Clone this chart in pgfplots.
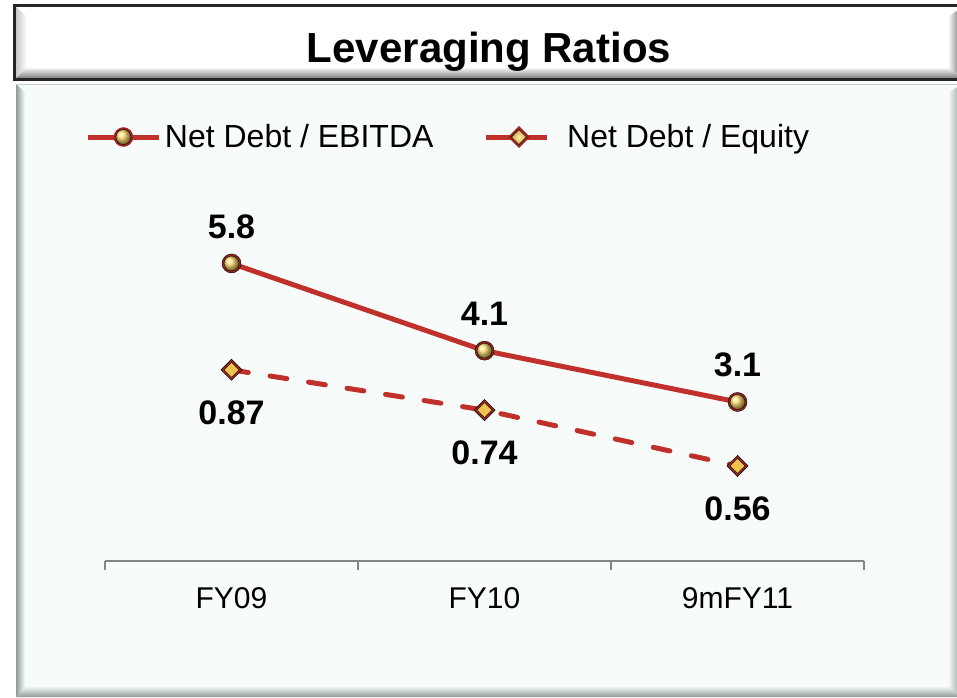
\documentclass[border=0pt]{standalone}
\usepackage{pgfplots}
\pgfplotsset{compat=1.18}
\usepackage{fontspec}
\setmainfont{Liberation Sans}
\definecolor{lred}{HTML}{C0312B}
\definecolor{dred}{HTML}{9A2420}
\definecolor{gold}{HTML}{F2C24E}
\definecolor{ballc}{HTML}{FFE070}
\definecolor{mint}{HTML}{F7FCFA}
\definecolor{bev}{HTML}{8E9C98}
\definecolor{axgray}{HTML}{858585}
\newcommand\fs[1]{\fontsize{#1}{#1}\selectfont}
\begin{document}
\begin{tikzpicture}
\useasboundingbox (0pt,0pt) rectangle (957pt,697pt);
\begin{scope}[x=1pt,y=1pt]
\clip (0,0) rectangle (957,697);
% title box
\fill[white] (14,617) rectangle (975,692);
\shade[top color=white, bottom color=black!50] (16,619) -- (962,619) -- (948,630) -- (27,630) -- cycle;
\shade[left color=white, right color=black!60] (948,630) -- (962,619) -- (962,690) -- (948,680) -- cycle;
\shade[left color=black!22, right color=white] (16,619) -- (27,630) -- (27,680) -- (16,690) -- cycle;
\draw[black!85, line width=3pt] (14.5,617.5) rectangle (975,691.5);
\node[anchor=base, font=\bfseries\fs{42}] at (489,634) {Leveraging Ratios};
% panel
\fill[mint] (16,0) rectangle (975,613);
\shade[top color=mint, bottom color=bev] (16,0) -- (962,0) -- (948,11) -- (25,11) -- cycle;
\shade[left color=bev, right color=mint] (16,0) -- (25,11) -- (25,604) -- (16,613) -- cycle;
\shade[left color=mint, right color=bev] (948,11) -- (962,0) -- (962,613) -- (948,604) -- cycle;
\draw[bev!50, line width=1pt] (16,612.5) -- (962,612.5);
\end{scope}
% primary axis: Net Debt / EBITDA
\begin{axis}[
  at={(105pt,136pt)}, anchor=south west, scale only axis,
  width=759pt, height=461pt,
  xmin=-0.5, xmax=2.5, ymin=0, ymax=8.986,
  clip=false,
  axis x line*=bottom, hide y axis,
  axis line style={axgray, line width=1.5pt},
  xtick={0,1,2}, xticklabels={FY09,FY10,9mFY11},
  major tick length=0pt,
  minor xtick={-0.5,0.5,1.5,2.5}, minor tick length=9pt,
  tick align=outside,
  minor tick style={axgray, line width=1.5pt},
  xticklabel style={font=\fs{30}, anchor=center, yshift=-37pt},
  legend style={at={(-0.0251,0.9197)}, anchor=west, draw=none, fill=none,
    inner sep=0pt, outer sep=0pt,
    nodes={inner sep=0pt, font=\fs{32}},
    /tikz/every odd column/.append style={column sep=3pt},
    /tikz/every even column/.append style={column sep=50pt}},
  legend columns=2,
  legend cell align=left,
]
\addlegendimage{legend image code/.code={
  \draw[lred, line width=5pt] (0pt,0pt) -- (71pt,0pt);
  \fill[dred] (35pt,0pt) circle (9.5pt);
  \shade[ball color=ballc] (35pt,0pt) circle (7.5pt);}}
\addlegendentry{Net Debt / EBITDA}
\addlegendimage{legend image code/.code={
  \draw[lred, line width=5pt] (0pt,0pt) -- (61pt,0pt);
  \path (78pt,0pt);
  \fill[dred, rotate around={45:(33pt,0pt)}] (25.5pt,-7.5pt) rectangle (40.5pt,7.5pt);
  \shade[inner color=ballc!60!white, outer color=gold!85!black, rotate around={45:(33pt,0pt)}] (27.7pt,-5.3pt) rectangle (38.3pt,5.3pt);}}
\addlegendentry{Net Debt / Equity}
\addplot[lred, line width=5pt, mark=none,
  nodes near coords, point meta=explicit symbolic,
  every node near coord/.append style={font=\bfseries\fs{34}, black, anchor=center, yshift=37pt}]
  coordinates {(0,5.8)[5.8] (1,4.1)[4.1] (2,3.1)[3.1]};
\addplot[only marks, mark=*, mark size=9.5pt, mark options={fill=dred, draw=none}]
  coordinates {(0,5.8) (1,4.1) (2,3.1)};
\addplot[only marks, mark=ball, mark size=7.5pt, mark options={ball color=ballc, draw=none}]
  coordinates {(0,5.8) (1,4.1) (2,3.1)};
\end{axis}
% secondary axis: Net Debt / Equity
\begin{axis}[
  at={(105pt,136pt)}, anchor=south west, scale only axis,
  width=759pt, height=461pt,
  xmin=-0.5, xmax=2.5, ymin=0.253, ymax=1.741,
  clip=false,
  hide x axis, hide y axis,
]
\addplot[lred, line width=5pt, mark=none, line cap=round, dash pattern=on 17pt off 22pt,
  nodes near coords, point meta=explicit symbolic,
  every node near coord/.append style={font=\bfseries\fs{34}, black, anchor=center, yshift=-43pt}]
  coordinates {(0,0.87)[0.87] (1,0.74)[0.74] (2,0.56)[0.56]};
\addplot[only marks, mark=square*, mark size=7.5pt, mark options={fill=dred, draw=none, rotate=45}]
  coordinates {(0,0.87) (1,0.74) (2,0.56)};
\addplot[only marks, mark=square*, mark size=5.3pt, mark options={fill=gold, draw=none, rotate=45}]
  coordinates {(0,0.87) (1,0.74) (2,0.56)};
\end{axis}
\end{tikzpicture}
\end{document}
